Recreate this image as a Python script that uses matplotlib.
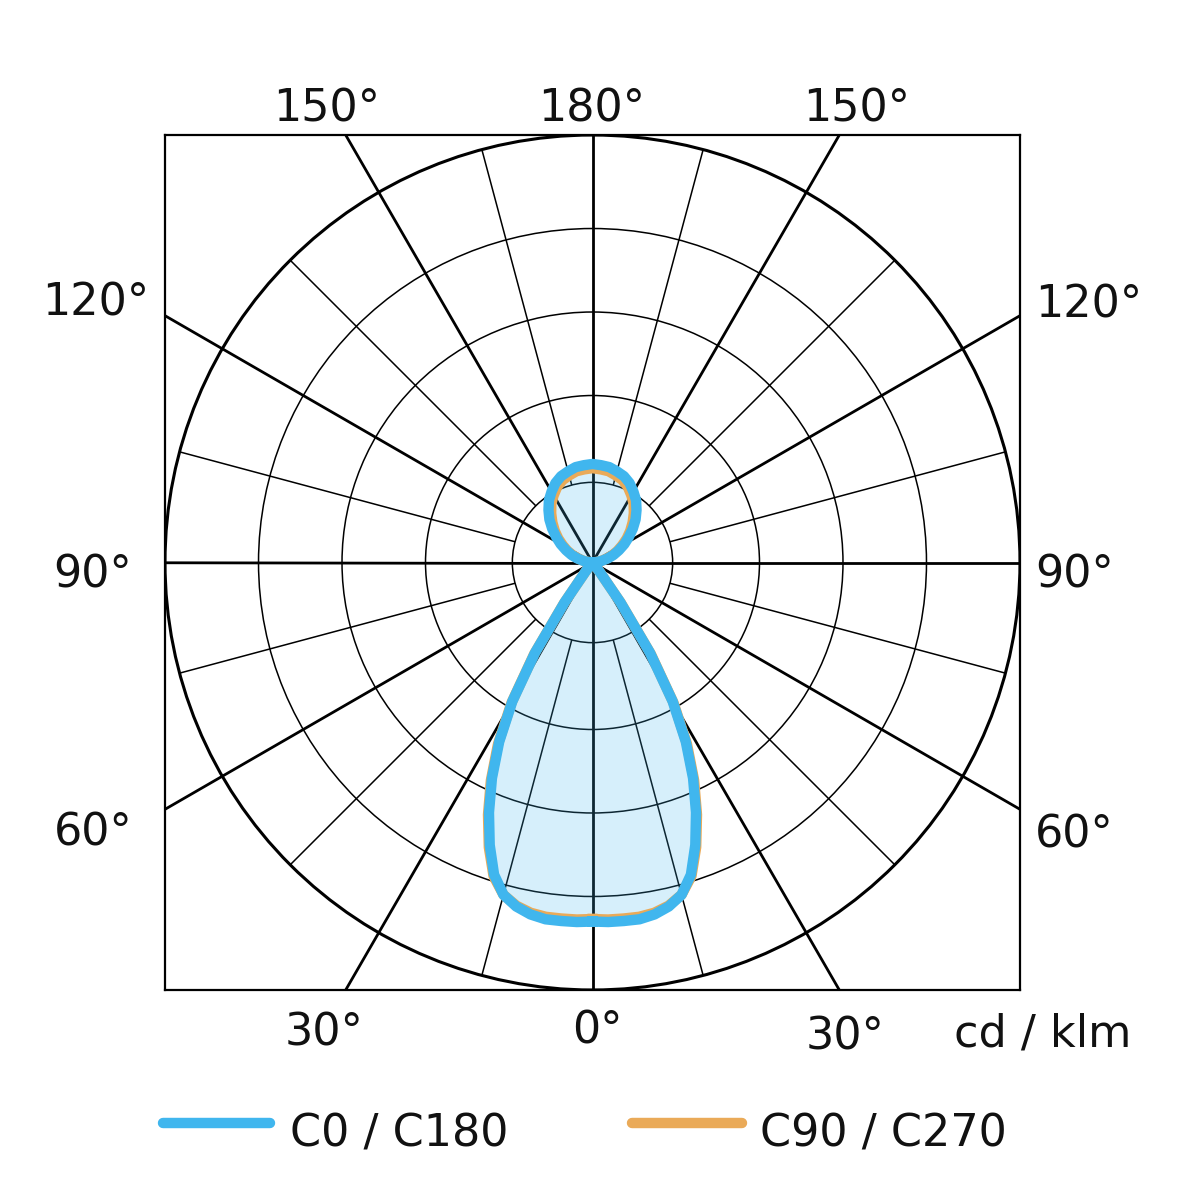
import numpy as np
import matplotlib
matplotlib.use("Agg")
import matplotlib.pyplot as plt
from matplotlib.patches import Circle
from matplotlib.lines import Line2D

# Luminous intensity distribution (cd/klm), gamma angle in degrees (0 = down)
gammas = [0, 2.5, 5, 7.5, 10, 12.5, 15, 17.5, 20, 22.5, 25, 27.5, 30, 32.5, 35, 37.5, 40,
          45, 50, 55, 60, 65, 70, 75, 80, 85, 90, 95, 100, 105, 110, 115, 120, 125,
          130, 135, 140, 145, 150, 155, 160, 165, 170, 175, 180]
c0_c180 = [430, 431, 431, 431, 428, 422, 412, 392, 360, 324, 285, 242, 192, 128, 58, 14, 0,
           0, 0, 0, 0, 0, 0, 0, 0, 0, 0, 4, 11, 19, 27, 35, 44, 53,
           63, 73, 82, 91, 98, 105, 110, 113, 116, 117, 118]
c90_c270 = [427, 428, 428, 428, 426, 421, 412, 394, 363, 327, 288, 245, 194, 130, 59, 14, 0,
            0, 0, 0, 0, 0, 0, 0, 0, 0, 0, 3, 10, 17, 25, 33, 41, 50,
            59, 68, 77, 86, 93, 100, 105, 108, 111, 112, 113]

ring_values = [96, 200, 300, 400]
r_max = 512
series_labels = ["C0 / C180", "C90 / C270"]
unit_label = "cd / klm"

BLUE = "#40b6ee"
ORANGE = "#eaaa58"


def to_xy(gam, r, side=1):
    g = np.radians(np.asarray(gam, dtype=float))
    r = np.asarray(r, dtype=float)
    return side * r * np.sin(g), -r * np.cos(g)


def closed_curve(gam, r):
    xr, yr = to_xy(gam, r, 1)
    xl, yl = to_xy(gam[::-1], r[::-1], -1)
    return np.concatenate([xr, xl]), np.concatenate([yr, yl])


fig = plt.figure(figsize=(12, 12), dpi=100)
W = 1200.0
ax = fig.add_axes([165 / W, 1 - 990 / W, 855 / W, 855 / W])
ax.set_xlim(-r_max, r_max)
ax.set_ylim(-r_max, r_max)
ax.set_aspect("equal")
ax.set_xticks([])
ax.set_yticks([])
for s in ax.spines.values():
    s.set_linewidth(1.6)
    s.set_color("black")
    s.set_zorder(6)

# grid rings
for rv in ring_values:
    ax.add_patch(Circle((0, 0), rv, fill=False, lw=1.1, color="black", zorder=2))
ax.add_patch(Circle((0, 0), r_max, fill=False, lw=2.2, color="black", zorder=2))

# radial lines: thin every 15 deg from the first ring, thick every 30 deg to the frame
for a in range(0, 360, 15):
    if a % 30 == 0:
        x, y = to_xy([a, a], [0, 2 * r_max])
        ax.plot(x, y, color="black", lw=2.0, zorder=2, solid_capstyle="butt")
    else:
        x, y = to_xy([a, a], [ring_values[0], r_max])
        ax.plot(x, y, color="black", lw=1.1, zorder=2, solid_capstyle="butt")

g = np.array(gammas, dtype=float)
xb, yb = closed_curve(g, np.array(c0_c180, dtype=float))
xo, yo = closed_curve(g, np.array(c90_c270, dtype=float))

ax.fill(xb, yb, color=BLUE, alpha=0.21, lw=0, zorder=3)
ax.plot(xo, yo, color=ORANGE, lw=7.5, zorder=4, solid_joinstyle="round")
ax.plot(xb, yb, color=BLUE, lw=7.5, zorder=5, solid_joinstyle="round")

# angle labels (pixel positions -> figure fraction)
fs = 32


def ftext(px, py, s, ha="center"):
    fig.text(px / W, 1 - py / W, s, ha=ha, va="baseline", fontsize=fs,
             color="#111111", family="DejaVu Sans")


ftext(327, 122, "150°")
ftext(592, 122, "180°")
ftext(857, 122, "150°")
ftext(96, 315, "120°")
ftext(93, 587, "90°")
ftext(93, 845, "60°")
ftext(1035, 318, "120°", ha="left")
ftext(1035, 588, "90°", ha="left")
ftext(1035, 848, "60°", ha="left")
ftext(324, 1045, "30°")
ftext(597, 1043, "0°")
ftext(845, 1050, "30°")
ftext(1043, 1046, unit_label)

# legend
for (x0, x1, tx), col, lab in zip([(163, 270, 290), (632, 742, 760)], [BLUE, ORANGE], series_labels):
    fig.add_artist(Line2D([x0 / W, x1 / W], [1 - 1123 / W, 1 - 1123 / W],
                          transform=fig.transFigure, color=col, lw=7.5,
                          solid_capstyle="round"))
    ftext(tx, 1146, lab, ha="left")

fig.savefig("out.png", dpi=100, facecolor="white")
